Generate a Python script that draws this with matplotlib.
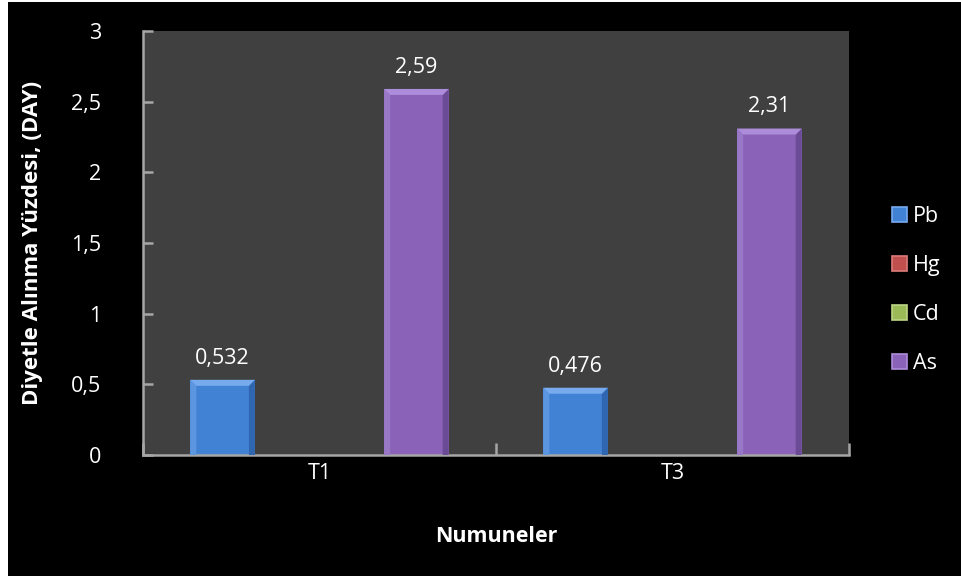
import matplotlib.pyplot as plt
from matplotlib.patches import Polygon, Rectangle
import numpy as np

# Samples and measured values
samples = ["T1", "T3"]
elements = ["Pb", "Hg", "Cd", "As"]
values = {
    "Pb": [0.532, 0.476],
    "Hg": [0.0, 0.0],
    "Cd": [0.0, 0.0],
    "As": [2.59, 2.31],
}
value_labels = {
    "Pb": ["0,532", "0,476"],
    "As": ["2,59", "2,31"],
}
yticks = [0, 0.5, 1, 1.5, 2, 2.5, 3]
ytick_labels = ["0", "0,5", "1", "1,5", "2", "2,5", "3"]

# base colour, top bevel, left edge, right edge
colors = {
    "Pb": ("#4282d4", "#78aaee", "#5c96e0", "#3066b0"),
    "Hg": ("#c0504d", "#dc7c79", "#cc6562", "#9a3b38"),
    "Cd": ("#9bbb59", "#bcd585", "#aac86c", "#7a9742"),
    "As": ("#8a63b8", "#ad8cda", "#9a78c8", "#6c4b96"),
}

plt.rcParams["font.family"] = ["Open Sans", "DejaVu Sans"]
FS = 15.5

fig = plt.figure(figsize=(9.61, 5.76), dpi=100, facecolor="white")
fig.patches.append(Rectangle((8 / 961, 0), 1, 1 - 2 / 576, transform=fig.transFigure,
                             facecolor="black", edgecolor="none", zorder=-10))
ax = fig.add_axes([143 / 961, 1 - 455 / 576, 706 / 961, 424 / 576])
ax.set_facecolor("#404040")

x = np.arange(len(samples))
width = 0.183
ax.set_xlim(-0.5, 1.5)
ax.set_ylim(0, 3)

# pixel -> data scale for the bevel size
px_x = 2.0 / 706
px_y = 3.0 / 424
bev = 6

for i, el in enumerate(elements):
    offs = (i - 1.5) * width
    bars = ax.bar(x + offs, values[el], width, color=colors[el][0], zorder=2)
    for j, b in enumerate(bars):
        h = b.get_height()
        if h <= 0:
            continue
        x0 = b.get_x()
        x1 = x0 + b.get_width()
        dx = bev * px_x
        dy = bev * px_y
        ax.add_patch(Polygon([(x0, 0), (x0, h), (x0 + dx, h - dy), (x0 + dx, 0)],
                             closed=True, facecolor=colors[el][2], edgecolor="none", zorder=3))
        ax.add_patch(Polygon([(x1, 0), (x1, h), (x1 - dx, h - dy), (x1 - dx, 0)],
                             closed=True, facecolor=colors[el][3], edgecolor="none", zorder=3))
        ax.add_patch(Polygon([(x0, h), (x1, h), (x1 - dx, h - dy), (x0 + dx, h - dy)],
                             closed=True, facecolor=colors[el][1], edgecolor="none", zorder=3))
        if el in value_labels:
            ax.annotate(value_labels[el][j], (b.get_x() + b.get_width() / 2, h),
                        xytext=(0, 8), textcoords="offset points",
                        ha="center", va="bottom", color="white", fontsize=FS)

for s in ["top", "right"]:
    ax.spines[s].set_visible(False)
for s in ["left", "bottom"]:
    ax.spines[s].set_color("#a6a6a6")
    ax.spines[s].set_linewidth(1.8)

ax.set_yticks(yticks)
ax.set_yticklabels(ytick_labels)
ax.tick_params(axis="y", direction="in", length=7, width=1.8, color="#a6a6a6",
               labelcolor="white", labelsize=FS, pad=30)
for lbl in ax.get_yticklabels():
    lbl.set_horizontalalignment("right")

# category labels at centres, tick marks on the boundaries
ax.set_xticks([-0.5, 0.5, 1.5])
ax.set_xticklabels([])
ax.set_xticks(x, minor=True)
ax.set_xticklabels(samples, minor=True)
ax.tick_params(axis="x", which="major", direction="in", length=9, width=1.8, color="#a6a6a6")
ax.tick_params(axis="x", which="minor", length=0, labelcolor="white", labelsize=FS, pad=6)

ax.set_ylabel("Diyetle Alınma Yüzdesi, (DAY)", color="white", fontsize=16,
              fontweight="bold", labelpad=20)
ax.set_xlabel("Numuneler", color="white", fontsize=15.5, fontweight="bold", labelpad=30)

handles = [Rectangle((0, 0), 1, 1, facecolor=colors[el][0], edgecolor=colors[el][1], lw=1.2)
           for el in elements]
fig.legend(handles, elements, loc="center left", bbox_to_anchor=(892 / 961, 1 - 290 / 576),
           frameon=False, borderpad=0, borderaxespad=0,
           handlelength=0.68, handleheight=0.68, handletextpad=0.3,
           labelspacing=1.3, labelcolor="white", fontsize=FS)

fig.savefig("out.png", dpi=100, facecolor=fig.get_facecolor())
